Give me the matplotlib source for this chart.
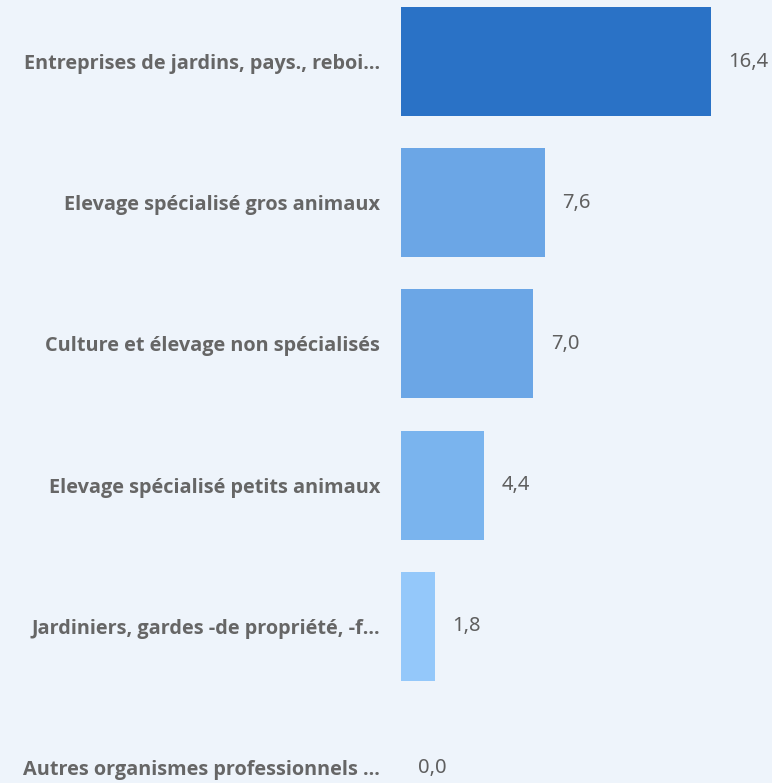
import matplotlib
matplotlib.use("Agg")
import matplotlib.pyplot as plt

categories = [
    "Entreprises de jardins, pays., reboi…",
    "Elevage spécialisé gros animaux",
    "Culture et élevage non spécialisés",
    "Elevage spécialisé petits animaux",
    "Jardiniers, gardes -de propriété, -f…",
    "Autres organismes professionnels …",
]
values = [16.4, 7.6, 7.0, 4.4, 1.8, 0.0]
value_labels = ["16,4", "7,6", "7,0", "4,4", "1,8", "0,0"]
colors = ["#2A72C6", "#6BA6E6", "#6BA6E6", "#7AB4EE", "#94C8FA", "#A8D4FC"]

bg = "#EEF4FB"
W, H = 772, 783
fig = plt.figure(figsize=(W / 100, H / 100), dpi=100, facecolor=bg)
ax = fig.add_axes([401 / W, 0, (W - 401) / W, 1])
ax.set_facecolor(bg)

pitch = 141.2
y = list(range(len(categories)))
ax.barh(y, values, height=109 / pitch, color=colors, left=0)
ax.set_xlim(0, (W - 401) / 18.9)
ax.set_ylim((H - 61.5) / pitch, -61.5 / pitch)

for i, (v, lab) in enumerate(zip(values, value_labels)):
    ax.annotate(lab, (v, i), xytext=(12.5, 0), textcoords="offset points",
                ha="left", va="center", fontsize=14.5, color="#5F5F5F",
                family="Noto Sans", annotation_clip=False)

ax.set_yticks(y)
ax.set_yticklabels(categories, fontsize=14.3, fontweight="bold", color="#666666",
                   family="Open Sans")
ax.tick_params(axis="y", length=0, pad=15)
ax.tick_params(axis="x", bottom=False, labelbottom=False)
for s in ax.spines.values():
    s.set_visible(False)

fig.savefig("out.png", dpi=100, facecolor=bg)
